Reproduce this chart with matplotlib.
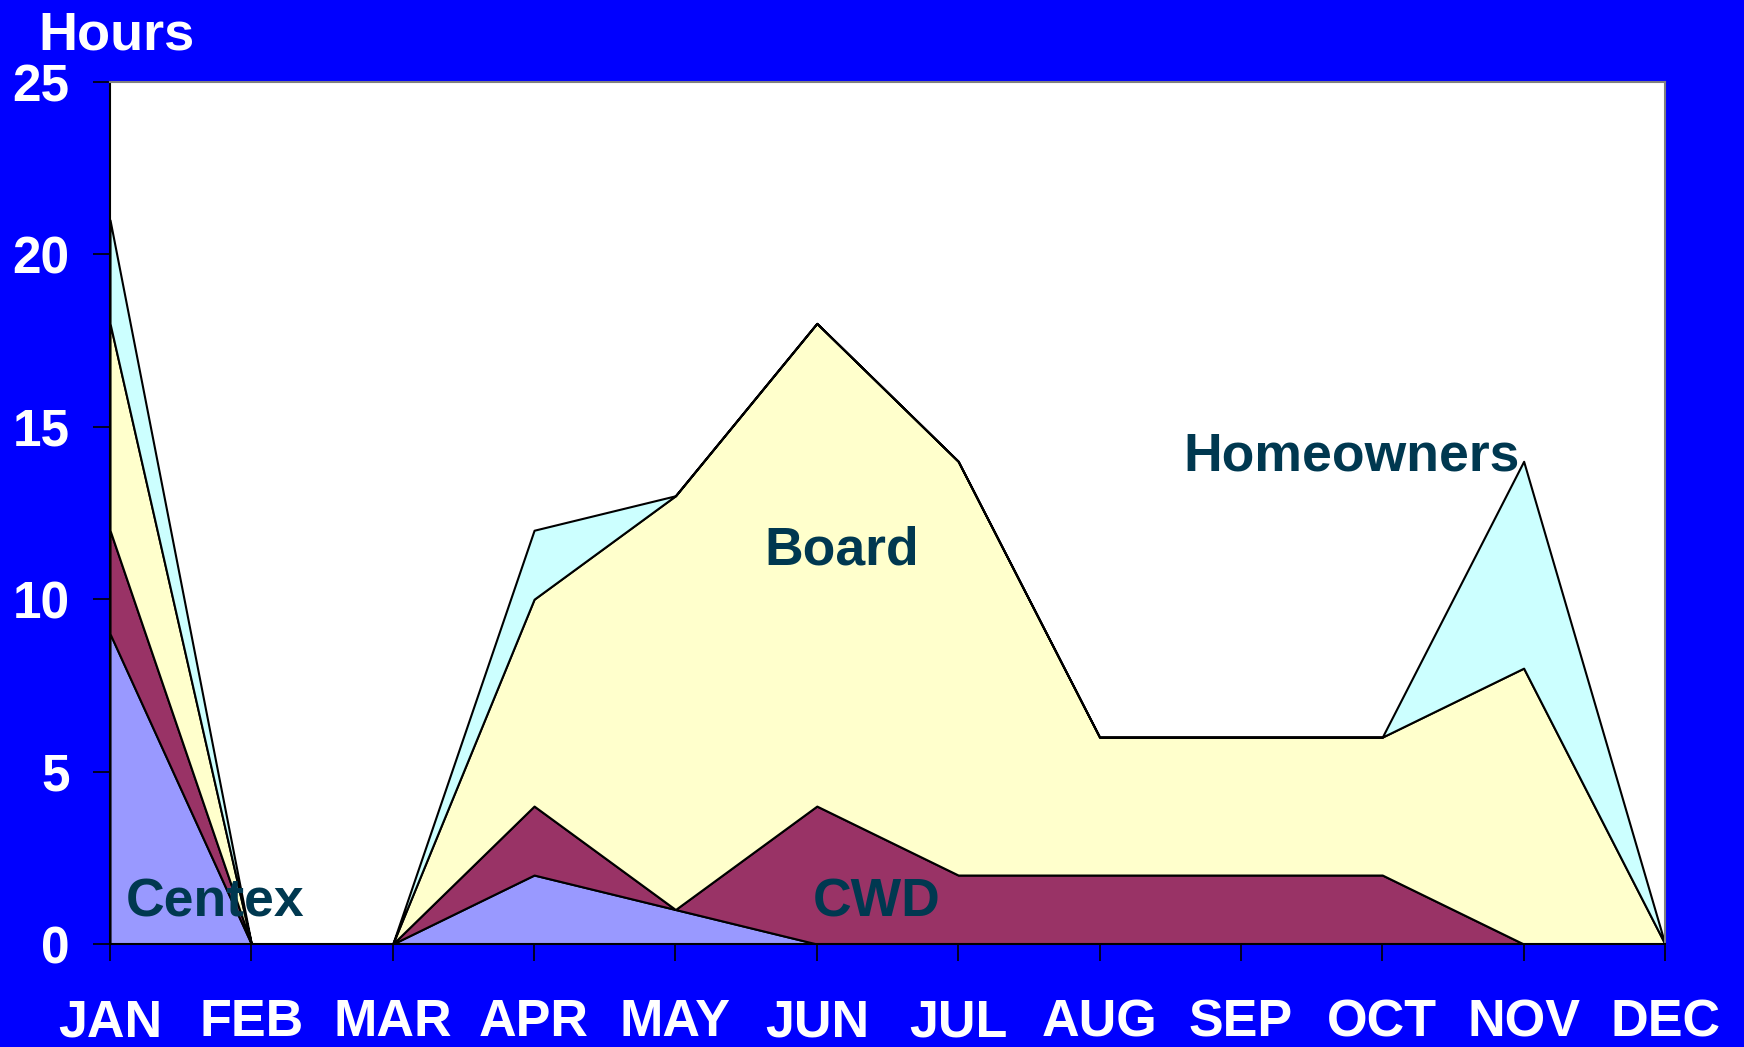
import numpy as np
import matplotlib.pyplot as plt

plt.rcParams['font.family'] = ['Liberation Sans', 'DejaVu Sans']
plt.rcParams['font.weight'] = 'bold'

# Данные
months = ["JAN", "FEB", "MAR", "APR", "MAY", "JUN", "JUL", "AUG", "SEP", "OCT", "NOV", "DEC"]
centex = [9, 0, 0, 2, 1, 0, 0, 0, 0, 0, 0, 0]
cwd = [3, 0, 0, 2, 0, 4, 2, 2, 2, 2, 0, 0]
board = [6, 0, 0, 6, 12, 14, 12, 4, 4, 4, 8, 0]
homeowners = [3, 0, 0, 2, 0, 0, 0, 0, 0, 0, 6, 0]
series_names = ["Centex", "CWD", "Board", "Homeowners"]
colors = ["#9999FF", "#993366", "#FFFFCC", "#CCFFFF"]
yticks = [0, 5, 10, 15, 20, 25]

fig = plt.figure(figsize=(17.44, 10.47), dpi=100, facecolor="#0000FF")
ax = fig.add_axes([110 / 1744, 1 - 944 / 1047, 1555 / 1744, 862 / 1047])
ax.set_facecolor("white")

x = np.arange(len(months))
ax.stackplot(x, centex, cwd, board, homeowners, colors=colors,
             edgecolor="black", linewidth=1.5)

ax.set_xlim(0, len(months) - 1)
ax.set_ylim(0, 25)
ax.set_xticks(x)
ax.set_xticklabels(months)
ax.set_yticks(yticks)
ax.tick_params(axis="x", colors="black", labelcolor="white", labelsize=37.5,
               length=12, width=1.2, pad=27)
ax.tick_params(axis="y", colors="black", labelcolor="white", labelsize=37,
               length=12, width=1.2, pad=17)
for lab in ax.get_xticklabels() + ax.get_yticklabels():
    lab.set_fontweight("bold")

ax.spines["left"].set_color("black")
ax.spines["bottom"].set_color("black")
ax.spines["left"].set_linewidth(1.5)
ax.spines["bottom"].set_linewidth(1.5)
ax.spines["top"].set_color("gray")
ax.spines["right"].set_color("gray")
ax.spines["top"].set_linewidth(1.5)
ax.spines["right"].set_linewidth(1.5)

# Подписи серий
label_color = "#003850"
label_pos = [(0.11, 1.2), (4.97, 1.2), (4.63, 11.4), (7.59, 14.15)]
for name, (lx, ly) in zip(series_names, label_pos):
    ax.text(lx, ly, name, color=label_color, fontsize=38.5, fontweight="bold",
            ha="left", va="center")

fig.text(38 / 1744, 1 - 50 / 1047, "Hours", color="white", fontsize=39,
         fontweight="bold", ha="left", va="baseline")

fig.savefig("out.png", dpi=100, facecolor=fig.get_facecolor())
